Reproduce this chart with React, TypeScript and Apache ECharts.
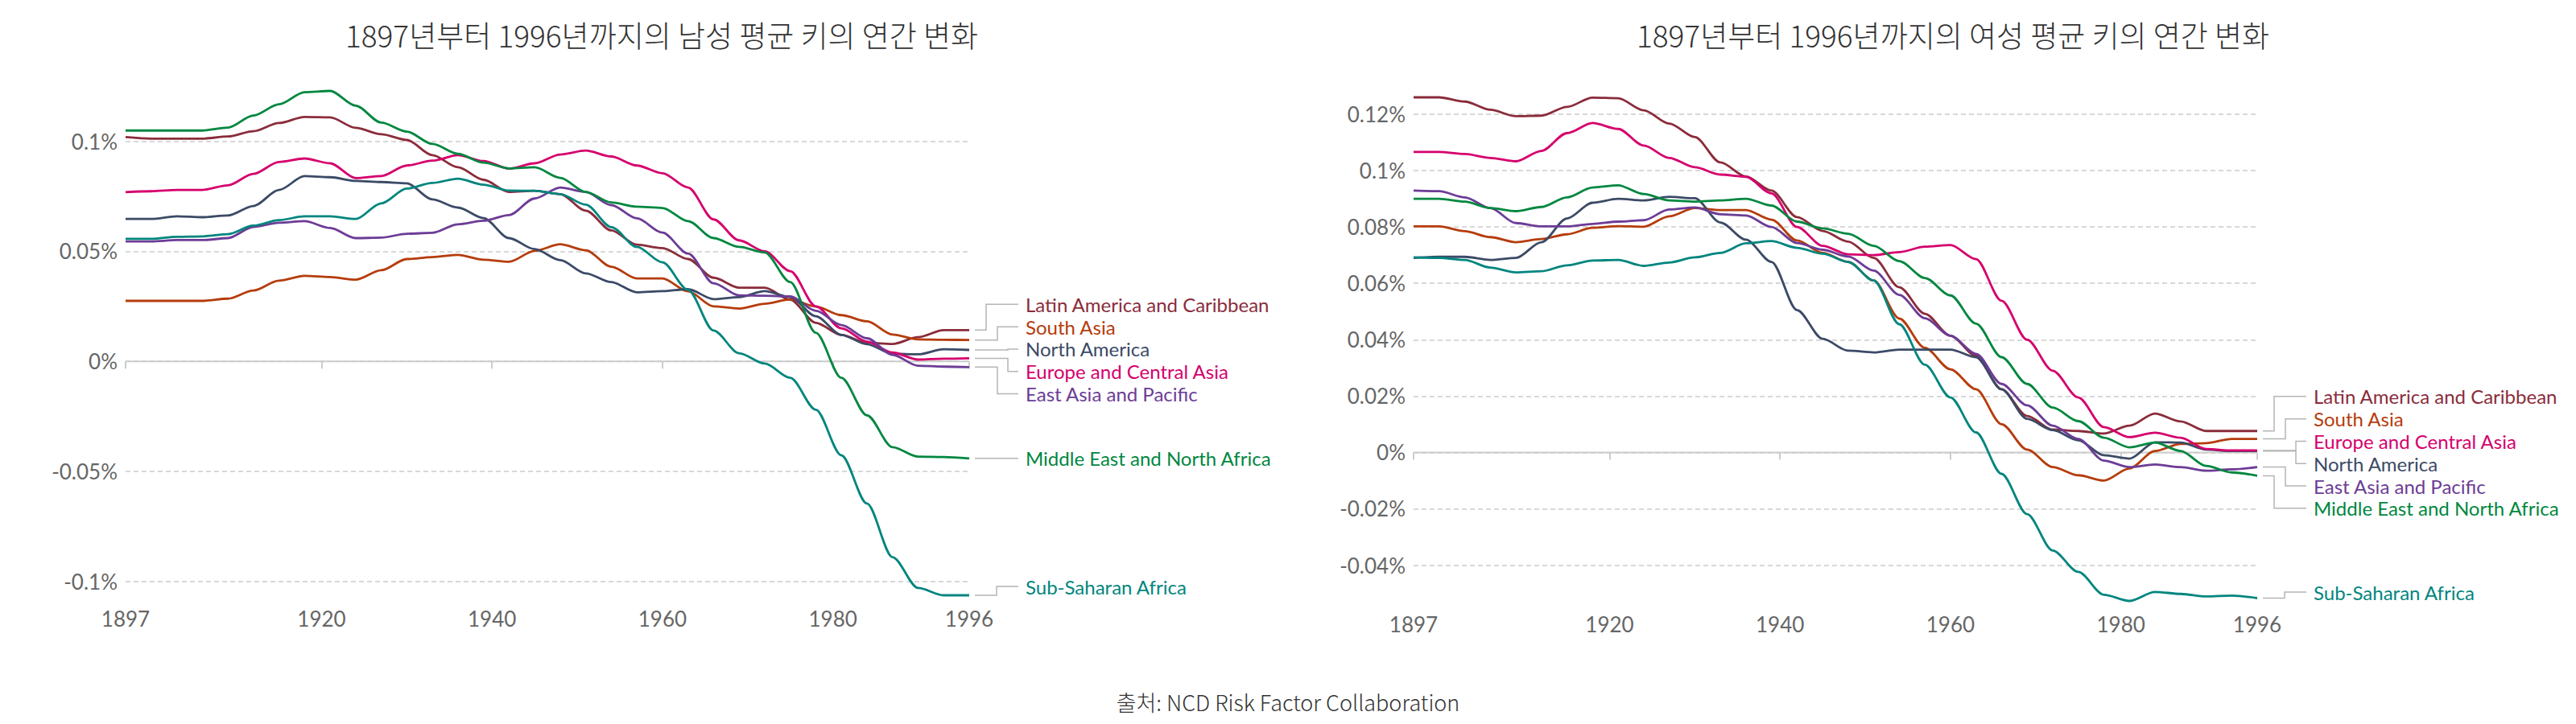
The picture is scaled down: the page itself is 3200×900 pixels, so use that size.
import React, { useEffect, useRef } from "react";
import * as echarts from "echarts";

// ---------- DATA ----------
const years = [
  1897, 1900, 1903, 1906, 1909, 1912, 1915, 1918, 1921, 1924, 1927, 1930, 1933, 1936, 1939, 1942, 1945,
  1948, 1951, 1954, 1957, 1960, 1963, 1966, 1969, 1972, 1975, 1978, 1981, 1984, 1987, 1990, 1993, 1996,
];
const xTickYears = [1897, 1920, 1940, 1960, 1980, 1996];

const regionNames = [
  "Latin America and Caribbean",
  "South Asia",
  "North America",
  "Europe and Central Asia",
  "East Asia and Pacific",
  "Middle East and North Africa",
  "Sub-Saharan Africa",
];
const regionColors = ["#8a2c3b", "#b53c0c", "#3b4a66", "#d5006d", "#6c3c96", "#00873f", "#00857e"];

// Male: annual change in mean height, in percent
const maleLatinAmerica = [0.1019, 0.1012, 0.1012, 0.1012, 0.1022, 0.1046, 0.1083, 0.1111, 0.1109, 0.1061, 0.1032, 0.1006, 0.0937, 0.0882, 0.0825, 0.077, 0.0775, 0.076, 0.0685, 0.0595, 0.053, 0.0515, 0.0465, 0.038, 0.0335, 0.0335, 0.028, 0.0175, 0.012, 0.0085, 0.0079, 0.011, 0.0142, 0.0142];
const maleSouthAsia = [0.0275, 0.0275, 0.0275, 0.0275, 0.0285, 0.0322, 0.0367, 0.0389, 0.0383, 0.0371, 0.0414, 0.0465, 0.0474, 0.0484, 0.0462, 0.0453, 0.0502, 0.0532, 0.0505, 0.043, 0.0377, 0.0377, 0.0318, 0.025, 0.024, 0.0262, 0.0282, 0.0249, 0.021, 0.0182, 0.0122, 0.01, 0.0098, 0.0097];
const maleNorthAmerica = [0.0647, 0.0647, 0.0659, 0.0655, 0.0663, 0.0706, 0.0779, 0.0842, 0.0837, 0.082, 0.0815, 0.0809, 0.0736, 0.0699, 0.0651, 0.056, 0.051, 0.046, 0.04, 0.036, 0.0314, 0.0319, 0.0328, 0.0283, 0.0292, 0.0319, 0.0292, 0.0205, 0.012, 0.0078, 0.0035, 0.0032, 0.0055, 0.0052];
const maleEurope = [0.0769, 0.0773, 0.0779, 0.0779, 0.08, 0.0852, 0.0906, 0.0922, 0.09, 0.0833, 0.0842, 0.089, 0.0912, 0.0937, 0.091, 0.0876, 0.09, 0.094, 0.0958, 0.0931, 0.089, 0.0855, 0.079, 0.0645, 0.055, 0.05, 0.041, 0.025, 0.015, 0.009, 0.004, 0.0008, 0.0012, 0.0014];
const maleEastAsia = [0.0545, 0.0545, 0.0551, 0.0551, 0.056, 0.0611, 0.063, 0.0637, 0.0606, 0.056, 0.0562, 0.058, 0.0584, 0.0623, 0.0639, 0.0665, 0.074, 0.079, 0.077, 0.071, 0.065, 0.0585, 0.049, 0.0355, 0.03, 0.0298, 0.0295, 0.023, 0.0165, 0.0105, 0.003, -0.002, -0.0024, -0.0026];
const maleMiddleEast = [0.1049, 0.1049, 0.1049, 0.1049, 0.1062, 0.1117, 0.1168, 0.1223, 0.1229, 0.1162, 0.1085, 0.1044, 0.0988, 0.0943, 0.0903, 0.0877, 0.0882, 0.0834, 0.077, 0.0722, 0.0703, 0.0697, 0.0637, 0.056, 0.052, 0.0495, 0.036, 0.013, -0.0075, -0.0245, -0.039, -0.0433, -0.0435, -0.0441];
const maleSubSaharan = [0.0557, 0.0557, 0.0566, 0.0568, 0.0578, 0.0617, 0.0642, 0.0659, 0.0659, 0.0647, 0.0718, 0.0785, 0.0811, 0.083, 0.0803, 0.0776, 0.0775, 0.076, 0.0712, 0.061, 0.052, 0.045, 0.0325, 0.014, 0.0037, -0.001, -0.0075, -0.022, -0.0427, -0.0646, -0.089, -0.103, -0.1063, -0.1063];

// Female: annual change in mean height, in percent
const femaleLatinAmerica = [0.126, 0.126, 0.1245, 0.1216, 0.1193, 0.1195, 0.1226, 0.1259, 0.1257, 0.1214, 0.1167, 0.1119, 0.1029, 0.0979, 0.0929, 0.0835, 0.0786, 0.0748, 0.069, 0.0586, 0.0492, 0.0414, 0.0343, 0.0224, 0.0129, 0.0081, 0.0076, 0.0067, 0.0095, 0.0138, 0.011, 0.0076, 0.0076, 0.0076];
const femaleSouthAsia = [0.0802, 0.0802, 0.0785, 0.0764, 0.0746, 0.0757, 0.0774, 0.0797, 0.0803, 0.0801, 0.0838, 0.0867, 0.086, 0.086, 0.0826, 0.0752, 0.0708, 0.0676, 0.061, 0.0475, 0.0371, 0.0295, 0.0224, 0.01, 0.001, -0.0052, -0.0081, -0.01, -0.0057, 0.0005, 0.003, 0.0033, 0.0048, 0.0048];
const femaleNorthAmerica = [0.069, 0.0694, 0.0694, 0.0683, 0.069, 0.0746, 0.083, 0.0886, 0.09, 0.0894, 0.0907, 0.0902, 0.0816, 0.0755, 0.0676, 0.0505, 0.0403, 0.0361, 0.0355, 0.0365, 0.0365, 0.0365, 0.0338, 0.0224, 0.0119, 0.0079, 0.0043, -0.001, -0.0022, 0.0036, 0.0035, 0.001, 0.0005, 0.0005];
const femaleEurope = [0.1066, 0.1066, 0.1059, 0.1045, 0.1033, 0.107, 0.1133, 0.1169, 0.1148, 0.1089, 0.1045, 0.1012, 0.0986, 0.0978, 0.0919, 0.08, 0.0733, 0.0703, 0.07, 0.0711, 0.073, 0.0736, 0.0686, 0.0538, 0.04, 0.029, 0.0195, 0.009, 0.0054, 0.007, 0.0052, 0.0012, 0.0007, 0.0007];
const femaleEastAsia = [0.0929, 0.0927, 0.0905, 0.0867, 0.0814, 0.0802, 0.0802, 0.0811, 0.0819, 0.0824, 0.0862, 0.0869, 0.0845, 0.0841, 0.08, 0.0743, 0.0719, 0.0695, 0.0645, 0.0559, 0.0476, 0.0414, 0.035, 0.0243, 0.0167, 0.0095, 0.0048, -0.0029, -0.0052, -0.0043, -0.0052, -0.0065, -0.006, -0.0052];
const femaleMiddleEast = [0.09, 0.09, 0.089, 0.0867, 0.0856, 0.0871, 0.0905, 0.094, 0.0948, 0.0917, 0.0894, 0.089, 0.0894, 0.09, 0.0876, 0.0819, 0.0795, 0.0776, 0.0733, 0.0679, 0.0619, 0.0557, 0.0457, 0.0338, 0.0243, 0.0159, 0.0111, 0.0052, 0.0018, 0.0035, 0.0005, -0.0048, -0.0071, -0.0083];
const femaleSubSaharan = [0.0692, 0.069, 0.0683, 0.0656, 0.0639, 0.0643, 0.0664, 0.0681, 0.0683, 0.0662, 0.0674, 0.0692, 0.0708, 0.0742, 0.075, 0.0726, 0.0705, 0.0676, 0.061, 0.0455, 0.0311, 0.0195, 0.0071, -0.0076, -0.0219, -0.0348, -0.0424, -0.0505, -0.0527, -0.0495, -0.0502, -0.0511, -0.0508, -0.0517];

const maleValues = [maleLatinAmerica, maleSouthAsia, maleNorthAmerica, maleEurope, maleEastAsia, maleMiddleEast, maleSubSaharan];
const femaleValues = [femaleLatinAmerica, femaleSouthAsia, femaleNorthAmerica, femaleEurope, femaleEastAsia, femaleMiddleEast, femaleSubSaharan];

const chartTitles = [
  "1897년부터 1996년까지의 남성 평균 키의 연간 변화",
  "1897년부터 1996년까지의 여성 평균 키의 연간 변화",
];
const sourceNote = "출처: NCD Risk Factor Collaboration";

// ---------- LAYOUT ----------
const W = 3200;
const H = 900;
const grids = [
  { left: 156, top: 113, width: 1048, height: 627, splitNumber: 5, titleX: 822 },
  { left: 1756, top: 121, width: 1048, height: 626, splitNumber: 8, titleX: 2426 },
];
const LABEL_SPACING = 27.8;
const TEXT_FONT = "Lato, 'Noto Sans', sans-serif";
const KR_FONT = "'Noto Sans CJK KR', 'Noto Sans', sans-serif";

const fmtPct = (v: number) => `${parseFloat(v.toFixed(4))}%`;

function buildOption() {
  const datasets = [maleValues, femaleValues];
  const series: any[] = [];
  datasets.forEach((vals, g) => {
    series.push({
      type: "line",
      xAxisIndex: g,
      yAxisIndex: g,
      data: [
        [years[0], 0],
        [years[years.length - 1], 0],
      ],
      showSymbol: false,
      silent: true,
      z: 1,
      lineStyle: { color: "#cccccc", width: 2 },
    });
    vals.forEach((arr, i) => {
      series.push({
        type: "line",
        name: regionNames[i],
        xAxisIndex: g,
        yAxisIndex: g,
        data: years.map((y, k) => [y, arr[k]]),
        showSymbol: false,
        smooth: 0.3,
        smoothMonotone: "x",
        clip: false,
        silent: true,
        z: 3,
        lineStyle: { color: regionColors[i], width: 2.8 },
        itemStyle: { color: regionColors[i] },
      });
    });
  });

  return {
    animation: false,
    backgroundColor: "#ffffff",
    grid: grids.map((g) => ({
      left: g.left,
      top: g.top,
      width: g.width,
      height: g.height,
      containLabel: false,
      outerBoundsMode: "none",
    })),
    xAxis: grids.map((_, g) => ({
      type: "value",
      gridIndex: g,
      min: years[0],
      max: years[years.length - 1],
      axisLine: { show: false },
      splitLine: { show: false },
      axisTick: {
        show: true,
        customValues: xTickYears,
        length: 9,
        lineStyle: { color: "#cccccc", width: 2 },
      },
      axisLabel: {
        customValues: xTickYears,
        formatter: (v: number) => String(v),
        color: "#666666",
        fontFamily: TEXT_FONT,
        fontSize: 26,
        margin: 16,
      },
    })),
    yAxis: grids.map((gr, g) => ({
      type: "value",
      gridIndex: g,
      min: (e: any) => e.min,
      max: (e: any) => e.max,
      splitNumber: gr.splitNumber,
      axisLine: { show: false },
      axisTick: { show: false },
      axisLabel: {
        formatter: fmtPct,
        color: "#666666",
        fontFamily: TEXT_FONT,
        fontSize: 26,
        margin: 10,
        showMinLabel: false,
        showMaxLabel: false,
      },
      splitLine: {
        show: true,
        showMinLine: false,
        showMaxLine: false,
        lineStyle: { color: "#cccccc", width: 1.5, type: [6, 4] },
      },
    })),
    series,
  };
}

function labelGraphics(chart: any, g: number, vals: number[][]) {
  const grid = grids[g];
  const right = grid.left + grid.width;
  const items = vals
    .map((arr, i) => {
      const p = chart.convertToPixel({ gridIndex: g }, [years[years.length - 1], arr[arr.length - 1]]);
      return { i, endY: p[1] as number, labelY: 0, elbow: 34 };
    })
    .sort((a, b) => a.endY - b.endY);

  type Cluster = { members: typeof items; start: number };
  const place = (c: Cluster) => {
    const mean = c.members.reduce((s, m) => s + m.endY, 0) / c.members.length;
    c.start = mean - ((c.members.length - 1) / 2) * LABEL_SPACING;
  };
  let clusters: Cluster[] = items.map((it) => ({ members: [it], start: 0 }));
  clusters.forEach(place);
  let merged = true;
  while (merged) {
    merged = false;
    for (let k = 0; k < clusters.length - 1; k++) {
      const a = clusters[k];
      const b = clusters[k + 1];
      if (a.start + a.members.length * LABEL_SPACING > b.start) {
        a.members = a.members.concat(b.members);
        place(a);
        clusters.splice(k + 1, 1);
        merged = true;
        break;
      }
    }
  }
  const maxY = grid.top + grid.height - 11;
  clusters.forEach((c) => {
    const last = c.start + (c.members.length - 1) * LABEL_SPACING;
    if (last > maxY) c.start -= last - maxY;
    c.members.forEach((m, k) => {
      m.labelY = c.start + k * LABEL_SPACING;
    });
    if (c.members.length > 1) {
      const ups = c.members.filter((m) => m.labelY <= m.endY);
      const downs = c.members.filter((m) => m.labelY > m.endY);
      const steps = [48, 35, 21];
      ups
        .slice()
        .reverse()
        .forEach((m, k) => (m.elbow = steps[Math.min(k, 2)]));
      downs.forEach((m, k) => (m.elbow = steps[Math.min(k, 2)]));
    }
  });

  const els: any[] = [];
  items.forEach((m) => {
    els.push({
      type: "polyline",
      silent: true,
      shape: {
        points: [
          [right + 7, m.endY],
          [right + m.elbow, m.endY],
          [right + m.elbow, m.labelY],
          [right + 61, m.labelY],
        ],
      },
      style: { stroke: "#b5b5b5", lineWidth: 1.5, fill: null },
    });
    els.push({
      type: "text",
      silent: true,
      x: right + 70,
      y: m.labelY,
      style: {
        text: regionNames[m.i],
        fill: regionColors[m.i],
        font: `24px ${TEXT_FONT}`,
        textAlign: "left",
        textVerticalAlign: "middle",
      },
    });
  });
  return els;
}

export default function App() {
  const ref = useRef<HTMLDivElement>(null);
  useEffect(() => {
    if (!ref.current) return;
    const chart = echarts.init(ref.current, null, { renderer: "svg", width: W, height: H });
    chart.setOption(buildOption() as any);

    const elements: any[] = [];
    grids.forEach((gr, g) => {
      elements.push({
        type: "text",
        silent: true,
        x: gr.titleX,
        y: 43,
        style: {
          text: chartTitles[g],
          fill: "#333333",
          font: `300 37px ${KR_FONT}`,
          textAlign: "center",
          textVerticalAlign: "middle",
        },
      });
    });
    elements.push(...labelGraphics(chart, 0, maleValues));
    elements.push(...labelGraphics(chart, 1, femaleValues));
    elements.push({
      type: "text",
      silent: true,
      x: W / 2,
      y: 872,
      style: {
        text: sourceNote,
        fill: "#333333",
        font: `300 27px ${KR_FONT}`,
        textAlign: "center",
        textVerticalAlign: "middle",
      },
    });
    chart.setOption({ graphic: { elements } } as any);

    return () => chart.dispose();
  }, []);
  return (
    <div
      ref={ref}
      style={{ position: "absolute", left: 0, top: 0, width: W, height: H, background: "#ffffff" }}
    />
  );
}
